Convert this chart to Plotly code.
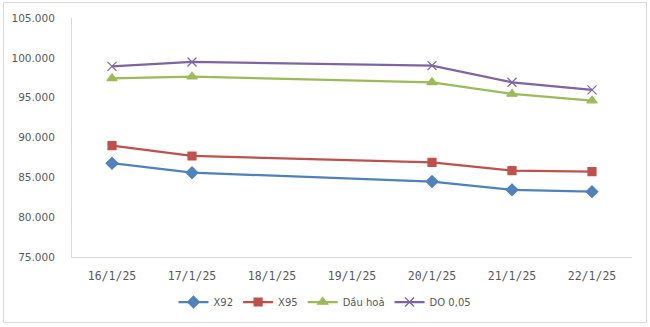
import plotly.graph_objects as go

# Trading dates on the category axis (18/1 and 19/1 have no quotes)
dates = ["16/1/25", "17/1/25", "18/1/25", "19/1/25", "20/1/25", "21/1/25", "22/1/25"]

# Prices per product, None where no quote was published
x92 = [86.77, 85.58, None, None, 84.47, 83.43, 83.20]
x95 = [88.97, 87.68, None, None, 86.89, 85.84, 85.72]
dau_hoa = [97.42, 97.64, None, None, 96.93, 95.47, 94.63]
do_005 = [98.93, 99.48, None, None, 99.02, 96.93, 95.97]

series = [
    ("X92", x92, "#4F81BD", "diamond", 9),
    ("X95", x95, "#C0504D", "square", 8),
    ("Dầu hoả", dau_hoa, "#9BBB59", "triangle-up", 9),
    ("DO 0,05", do_005, "#8064A2", "x-thin", 9),
]

y_ticks = [75, 80, 85, 90, 95, 100, 105]

fig = go.Figure()
for name, vals, color, symbol, size in series:
    fig.add_trace(go.Scatter(
        x=dates, y=vals, name=name, mode="lines+markers",
        connectgaps=True,
        line=dict(color=color, width=2.25),
        marker=dict(symbol=symbol, size=size, color=color,
                    line=dict(color=color, width=1.2)),
    ))

grey = "#D9D9D9"
L, R, T, B = 72, 18, 18, 70
plot_w, plot_h = 650 - L - R, 327 - T - B

fig.update_layout(
    width=650, height=327,
    margin=dict(l=L, r=R, t=T, b=B, autoexpand=False),
    paper_bgcolor="white", plot_bgcolor="white",
    font=dict(family="DejaVu Sans", size=10, color="#595959"),
    showlegend=True,
    legend=dict(orientation="h", x=(325 - L) / plot_w, xanchor="center",
                y=(plot_h + T - 302) / plot_h, yanchor="middle",
                itemwidth=30, font=dict(size=10, color="#595959"), tracegroupgap=0),
    xaxis=dict(type="category", categoryorder="array", categoryarray=dates,
               range=[-0.5, 6.5], showgrid=False, zeroline=False,
               showline=True, linecolor=grey, linewidth=1, ticks="",
               ticklabelstandoff=8,
               tickfont=dict(family="DejaVu Sans Mono", size=11.5, color="#595959")),
    yaxis=dict(range=[75, 105], tickvals=y_ticks, tickformat=".3f",
               showgrid=False, zeroline=False, showline=True, linecolor=grey,
               linewidth=1, ticks="", ticklabelstandoff=14,
               tickfont=dict(family="DejaVu Sans", size=10.5, color="#595959")),
    shapes=[dict(type="rect", xref="paper", yref="paper",
                 x0=(3.5 - L) / plot_w, x1=(646.5 - L) / plot_w,
                 y0=(plot_h + T - 322.5) / plot_h, y1=(plot_h + T - 2.5) / plot_h,
                 line=dict(color=grey, width=1), layer="below")],
)

fig.write_html("out.html")
